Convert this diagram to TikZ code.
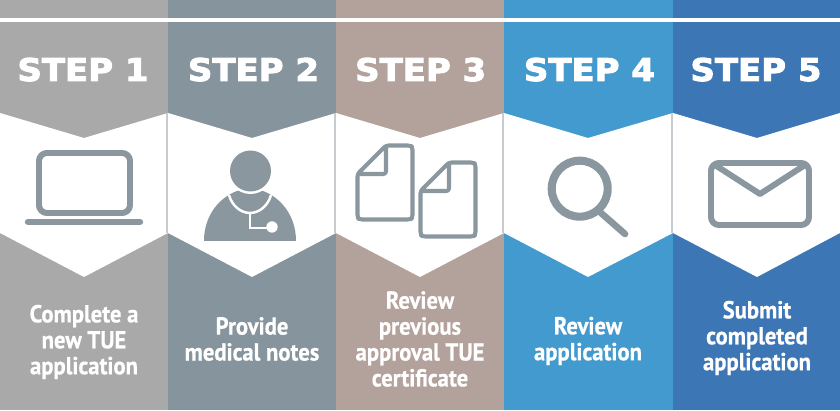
\documentclass[tikz,border=0pt]{standalone}
\usepackage{fontspec}
\newfontfamily\stepfont[FakeBold=3,FakeStretch=1.085]{DejaVu Sans Bold}
\newfontfamily\notefont[FakeStretch=0.92,FakeBold=0.6]{PT Sans Bold}
\definecolor{colone}{HTML}{A9A9A9}
\definecolor{coltwo}{HTML}{85949D}
\definecolor{colthree}{HTML}{B3A29C}
\definecolor{colfour}{HTML}{429ACF}
\definecolor{colfive}{HTML}{3C76B5}
\definecolor{icongrey}{HTML}{8A979F}
\definecolor{sepgrey}{HTML}{C8CCD0}
\tikzset{
	steptitle/.style={text=white, inner sep=0pt, anchor=base, font=\stepfont\fontsize{17.8pt}{20pt}\selectfont},
	stepnote/.style={text=white, inner sep=0pt, align=center, font=\notefont\fontsize{14pt}{14.75pt}\selectfont},
	iconline/.style={draw=icongrey, line width=3.4pt, rounded corners=4.5pt},
	iconthin/.style={draw=icongrey, line width=2.3pt, line join=round, rounded corners=1.5pt}
}
\begin{document}
\begin{tikzpicture}[x=0.02cm, y=-0.02cm]
	\useasboundingbox (0,0) rectangle (840,411);
%	columns
	\foreach \xa/\xb/\colname in {0/168/colone, 168/336/coltwo, 336/504/colthree, 504/673/colfour, 673/840/colfive}
		\fill [\colname] (\xa,0) rectangle (\xb,410);
	\fill [white] (0,17.8) rectangle (840,22);
%	white chevrons
	\foreach \xa/\xm/\xb in {0/84/168, 168/252/336, 336/420/504, 504/588/673, 673/757/840}
		\fill [white] (\xa,113) -- (\xm,138) -- (\xb,113) -- (\xb,233) -- (\xm,277) -- (\xa,233) -- cycle;
	\foreach \xs in {167.1, 335.2, 503.3, 671.7}
		\draw [sepgrey, line width=1.2pt] (\xs,113) -- (\xs,233);
%	titles
	\node [steptitle] (title1) at (83,81) {STEP 1};
	\node [steptitle] (title2) at (253.5,81) {STEP 2};
	\node [steptitle] (title3) at (420.7,81) {STEP 3};
	\node [steptitle] (title4) at (589.5,81) {STEP 4};
	\node [steptitle] (title5) at (756,81) {STEP 5};
%	laptop
	\draw [iconline] (39,153) rectangle (130,213);
	\draw [icongrey, line width=3.6pt, line cap=round] (28,222) -- (140,222);
%	doctor
	\fill [icongrey] (204,241) .. controls (204,215) and (220,196) .. (240,190) -- (260,190) .. controls (280,196) and (296,215) .. (296,241) -- cycle;
	\fill [white] (250.5,171) circle [radius=23];
	\fill [icongrey] (250.5,171) circle [radius=20.5];
	\draw [white, line width=1.4pt] (229,195) .. controls (232,206) and (241,213) .. (250,213) .. controls (259,213) and (268,206) .. (271,195);
	\draw [white, line width=1.4pt] (250,213) -- (250,228) -- (270,228);
	\fill [white] (272,227) circle [radius=5.7];
%	documents
	\foreach \dx/\dy in {0/0, 63/17}
		\draw [iconthin, shift={(\dx,\dy)}] (386,145.5) -- (410.5,145.5) -- (412.5,147.5) -- (412.5,217.5) -- (410.5,219.5) -- (359.5,219.5) -- (357.5,217.5) -- (357.5,174) -- cycle (386,145.5) -- (386,174) -- (357.5,174);
%	magnifier
	\draw [icongrey, line width=4.6pt] (579.7,188.7) circle [radius=28];
	\draw [icongrey, line width=3.8pt, line cap=round] (601,213) -- (625,234);
%	envelope
	\draw [iconline] (711,163) rectangle (809,225);
	\draw [icongrey, line width=3.4pt, line join=round] (715,165) -- (760,194) -- (805,165);
%	captions
	\node [stepnote] (note1) at (84,342) {Complete a\\new TUE\\application};
	\node [stepnote] (note2) at (252,339) {Provide\\medical notes};
	\node [stepnote] (note3) at (420,339) {Review\\previous\\approval TUE\\certificate};
	\node [stepnote] (note4) at (588,341) {Review\\application};
	\node [stepnote] (note5) at (757,338) {Submit\\completed\\application};
\end{tikzpicture}
\end{document}
